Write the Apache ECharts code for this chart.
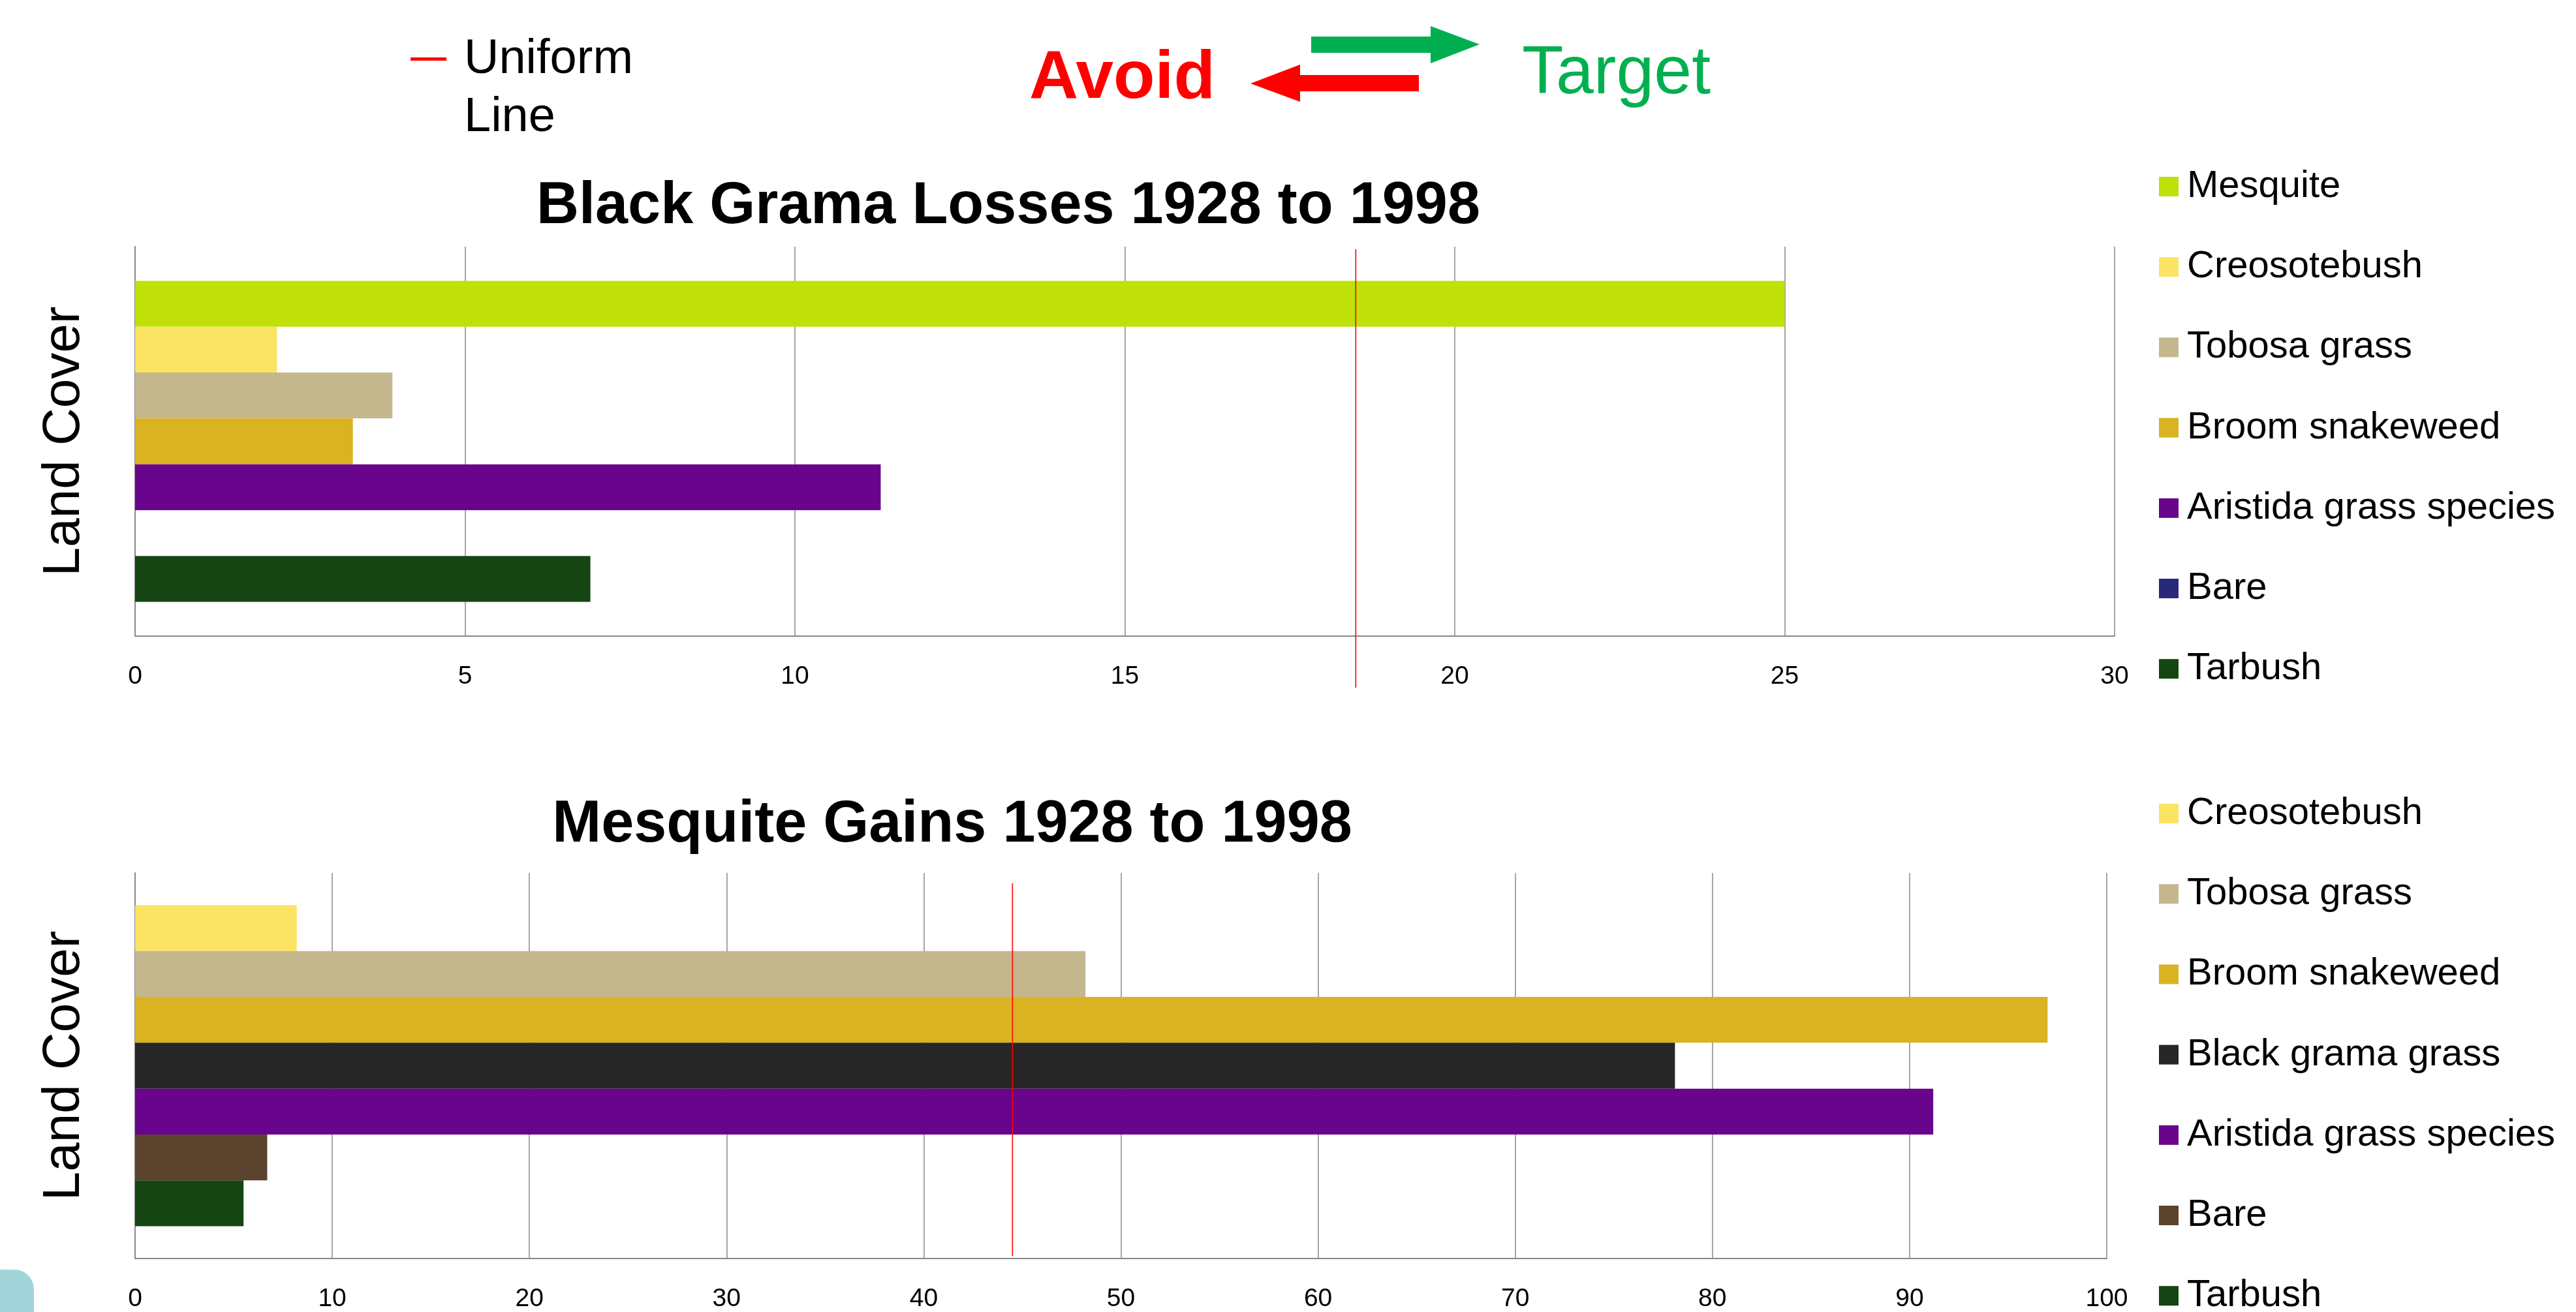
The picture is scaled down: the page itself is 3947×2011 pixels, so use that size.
<!DOCTYPE html>
<html>
<head>
<meta charset="utf-8">
<title>Black Grama Losses / Mesquite Gains</title>
<script src="https://cdn.jsdelivr.net/npm/echarts@6/dist/echarts.min.js"></script>
<style>
  html, body { margin: 0; padding: 0; background: #fff; }
  #chart { width: 3947px; height: 2011px; }
</style>
</head>
<body>
<div id="chart"></div>
<script>
// --- data ---
var lossNames = ['Mesquite', 'Creosotebush', 'Tobosa grass', 'Broom snakeweed', 'Aristida grass species', 'Bare', 'Tarbush'];
var lossValues = [25, 2.15, 3.9, 3.3, 11.3, 0, 6.9];
var lossUniform = 18.5;
var lossTicks = { min: 0, max: 30, step: 5 };

var gainNames = ['Creosotebush', 'Tobosa grass', 'Broom snakeweed', 'Black grama grass', 'Aristida grass species', 'Bare', 'Tarbush'];
var gainValues = [8.2, 48.2, 97, 78.1, 91.2, 6.7, 5.5];
var gainUniform = 44.5;
var gainTicks = { min: 0, max: 100, step: 10 };

// --- colours (styles, kept apart from the data) ---
var lossColors = ['#bfe008', '#fbe364', '#c4b78d', '#d9b321', '#68058c', '#29297a', '#154512'];
var gainColors = ['#fbe364', '#c4b78d', '#d9b321', '#262626', '#68058c', '#5b432e', '#154512'];

var FONT = "'Liberation Sans', Arial, sans-serif";
var gridLine = '#a6a6a6';
var axisCol = '#898989';

function barSeries(names, values, colors, idx) {
  return names.map(function (n, i) {
    return {
      name: n,
      type: 'bar',
      xAxisIndex: idx,
      yAxisIndex: idx,
      barWidth: 70.3,
      barGap: '0%',
      itemStyle: { color: colors[i] },
      data: [values[i]]
    };
  });
}

function uniformSeries(v, idx) {
  return {
    name: 'Uniform Line',
    type: 'line',
    xAxisIndex: idx,
    yAxisIndex: idx,
    symbol: 'none',
    silent: true,
    lineStyle: { color: '#ff0000', width: 1.6 },
    data: [[v, 0], [v, 1]]
  };
}

function valueAxis(idx, t) {
  return {
    gridIndex: idx,
    type: 'value',
    min: t.min,
    max: t.max,
    interval: t.step,
    axisLine: { show: true, lineStyle: { color: axisCol, width: 2 } },
    axisTick: { show: false },
    splitLine: { show: true, lineStyle: { color: gridLine, width: 2 } },
    axisLabel: { color: '#000', fontSize: 39, fontFamily: FONT, margin: 43 }
  };
}

function catAxis(idx) {
  return {
    gridIndex: idx,
    type: 'category',
    data: [''],
    name: 'Land Cover',
    nameLocation: 'middle',
    nameRotate: 90,
    nameGap: 68,
    nameTextStyle: { color: '#000', fontSize: 80, fontFamily: FONT },
    axisLine: { show: true, lineStyle: { color: axisCol, width: 2 } },
    axisTick: { show: false },
    axisLabel: { show: false },
    splitLine: { show: false }
  };
}

// rows are ~123 px apart; explicit height so the lower legend is not wrapped at the page bottom
function legendFor(names, colors, top) {
  return {
    orient: 'vertical',
    left: 3308,
    top: top,
    height: 900,
    padding: 0,
    itemWidth: 30,
    itemHeight: 30,
    itemGap: 65.2,
    icon: 'rect',
    selectedMode: false,
    textStyle: { color: '#000', fontSize: 58, fontFamily: FONT, padding: [0, 0, 0, 8] },
    data: names.map(function (n, i) { return { name: n, itemStyle: { color: colors[i] } }; })
  };
}

var chart = echarts.init(document.getElementById('chart'));

var option = {
  backgroundColor: '#fff',
  animation: false,
  title: [
    { text: 'Black Grama Losses 1928 to 1998', left: 1545, top: 272, textAlign: 'center', padding: 0,
      textStyle: { fontSize: 90, fontWeight: 'bold', color: '#000', fontFamily: FONT } },
    { text: 'Mesquite Gains 1928 to 1998', left: 1459, top: 1220, textAlign: 'center', padding: 0,
      textStyle: { fontSize: 90, fontWeight: 'bold', color: '#000', fontFamily: FONT } }
  ],
  legend: [
    legendFor(lossNames, lossColors, 257),
    legendFor(gainNames, gainColors, 1218)
  ],
  grid: [
    { left: 207, right: 707, top: 378, height: 597 },
    { left: 207, right: 719, top: 1338, height: 597 },
    { left: 207, right: 707, top: 382, height: 672 },
    { left: 207, right: 719, top: 1354, height: 571 }
  ],
  xAxis: [
    valueAxis(0, lossTicks),
    valueAxis(1, gainTicks),
    { gridIndex: 2, type: 'value', min: lossTicks.min, max: lossTicks.max, show: false },
    { gridIndex: 3, type: 'value', min: gainTicks.min, max: gainTicks.max, show: false }
  ],
  yAxis: [
    catAxis(0),
    catAxis(1),
    { gridIndex: 2, type: 'value', min: 0, max: 1, show: false },
    { gridIndex: 3, type: 'value', min: 0, max: 1, show: false }
  ],
  series: barSeries(lossNames, lossValues, lossColors, 0)
    .concat(barSeries(gainNames, gainValues, gainColors, 1))
    .concat([uniformSeries(lossUniform, 2), uniformSeries(gainUniform, 3)]),
  graphic: [
    // uniform line key
    { type: 'rect', shape: { x: 629, y: 88, width: 55, height: 5 }, style: { fill: '#ff0000' } },
    { type: 'text', x: 711, y: 92, style: { text: 'Uniform', font: '74px ' + FONT, fill: '#000', verticalAlign: 'middle' } },
    { type: 'text', x: 711, y: 181, style: { text: 'Line', font: '74px ' + FONT, fill: '#000', verticalAlign: 'middle' } },
    // avoid / target arrows
    { type: 'text', x: 1577, y: 121, style: { text: 'Avoid', font: 'bold 104px ' + FONT, fill: '#ff0000', verticalAlign: 'middle' } },
    { type: 'text', x: 2332, y: 114, style: { text: 'Target', font: '104px ' + FONT, fill: '#00b050', verticalAlign: 'middle' } },
    { type: 'polygon', shape: { points: [[2009, 56], [2192, 56], [2192, 40], [2267, 68], [2192, 97], [2192, 81], [2009, 81]] },
      style: { fill: '#00b050' } },
    { type: 'polygon', shape: { points: [[2174, 115], [1992, 115], [1992, 99], [1916, 128], [1992, 156], [1992, 140], [2174, 140]] },
      style: { fill: '#ff0000' } },
    // corner decoration
    { type: 'rect', shape: { x: -40, y: 1946, width: 92, height: 120, r: 30 }, style: { fill: '#a2d5da' } }
  ]
};

chart.setOption(option);
window.addEventListener('resize', function () { chart.resize(); });
</script>
</body>
</html>
